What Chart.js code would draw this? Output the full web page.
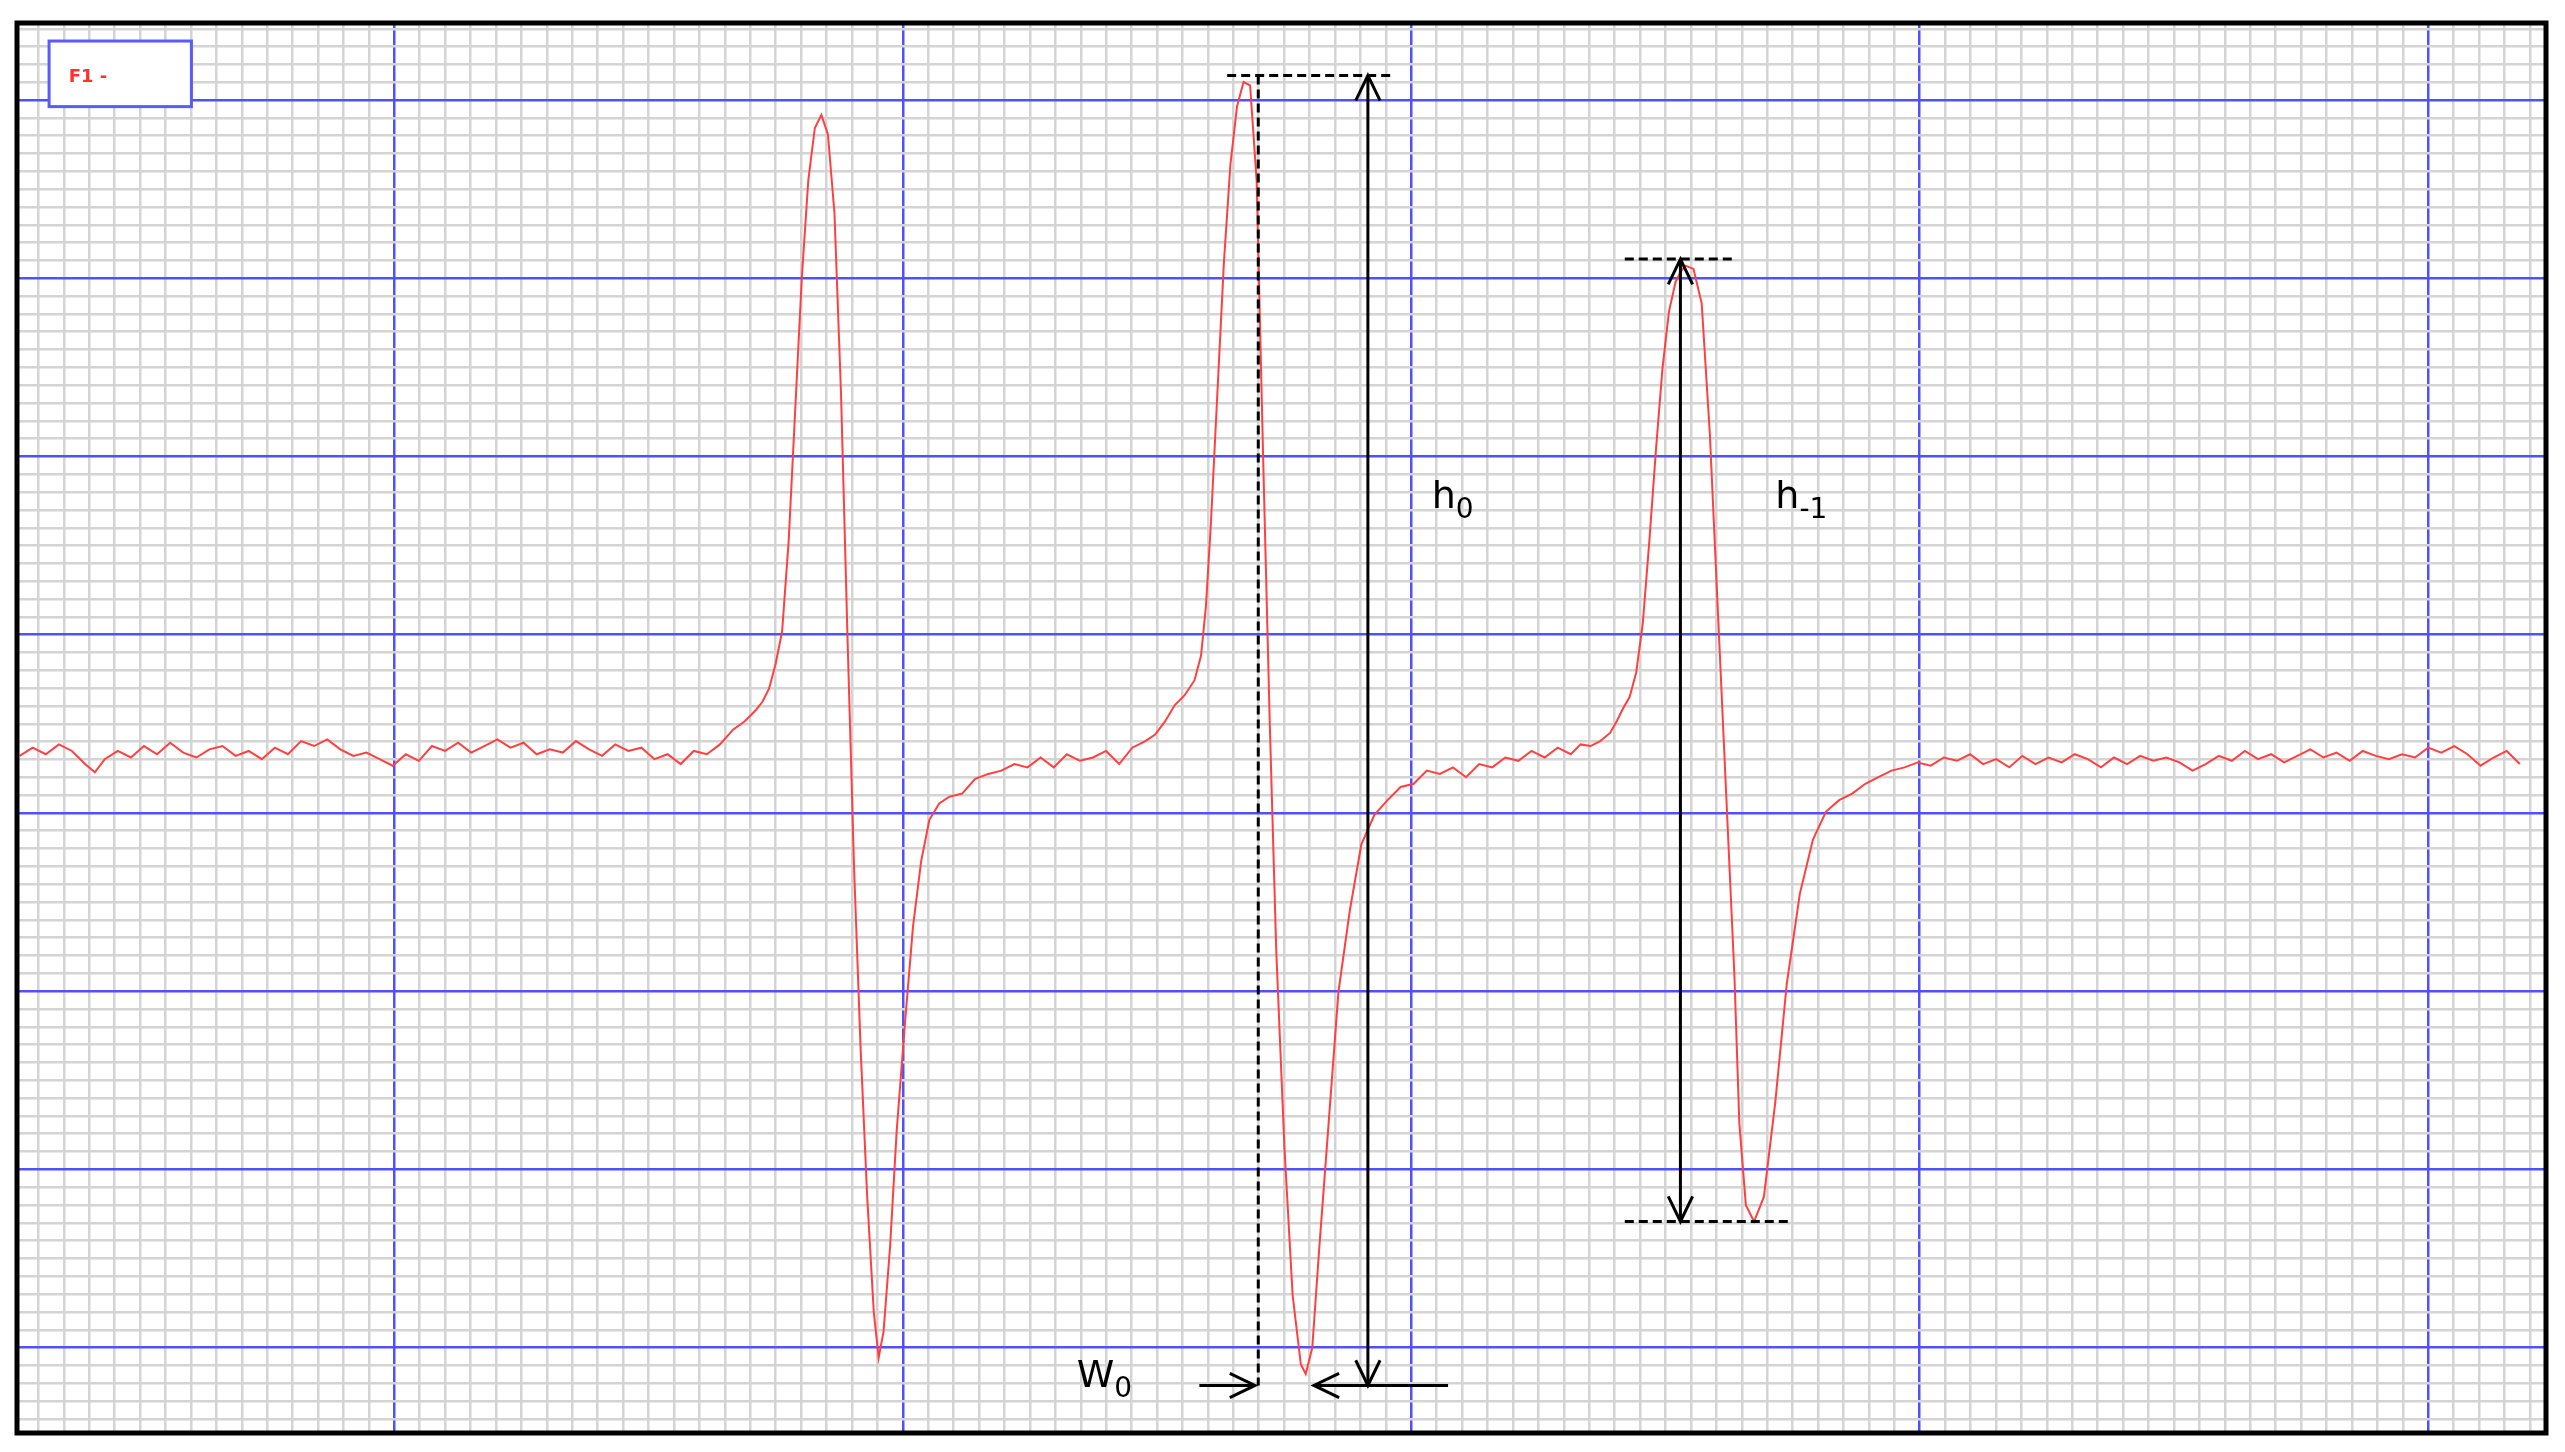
<!DOCTYPE html>
<html><head><meta charset="utf-8">
<script src="https://cdn.jsdelivr.net/npm/chart.js@4.4.0/dist/chart.umd.min.js"></script>
<style>html,body{margin:0;padding:0;background:#fff}#w{width:2565px;height:1452px}</style>
</head><body><div id="w"><canvas id="c"></canvas></div>
<script>
// Spectrum trace (field position, signal) in chart-paper units
const fieldX = [12,20,28,36,44,52,58,64,72,80,88,96,104,112,120,128,136,144,152,160,168,176,184,192,200,208,216,224,232,240,248,256,264,272,280,288,296,304,312,320,328,336,344,352,360,368,376,384,392,400,408,416,424,432,440,448,455,462,466,470,474,478,482,486,490,494,498,502,506,510,514,518,522,526,530,534,537,540,544,548,553,558,563,568,574,580,588,596,604,612,620,628,636,644,652,660,668,676,684,692,700,706,712,718,724,730,734,737,740,744,748,752,756,760,764,768,772,776,780,785,790,795,798,802,806,812,818,825,832,840,848,856,864,872,880,888,896,904,912,920,928,936,944,952,960,966,972,978,984,988,992,996,1000,1004,1008,1012,1016,1020,1024,1027,1030,1035,1040,1045,1050,1055,1060,1063,1067,1072,1078,1085,1092,1100,1108,1116,1124,1132,1140,1148,1156,1164,1172,1180,1188,1196,1204,1212,1220,1228,1236,1244,1252,1260,1268,1276,1284,1292,1300,1308,1316,1324,1332,1340,1348,1356,1364,1372,1380,1388,1396,1404,1412,1420,1428,1436,1444,1452,1460,1468,1476,1484,1492,1500,1508,1516,1524,1532,1540,1548,1556];
const signal = [461,456,460,454,458,466,471,463,458,462,455,460,453,459,462,457,455,461,458,463,456,460,452,455,451,457,461,459,463,467,460,464,455,458,453,459,455,451,456,453,460,457,459,452,457,461,454,458,456,463,460,466,458,460,454,445,440,433,428,420,405,385,330,250,170,110,78,70,82,130,240,390,530,640,730,800,828,812,760,690,625,565,525,500,490,486,484,475,472,470,466,468,462,468,460,464,462,458,466,456,452,448,440,430,424,415,400,370,320,240,160,100,65,50,52,110,280,440,580,700,790,832,838,822,765,685,605,555,515,497,488,480,478,470,472,468,474,466,468,462,464,458,462,456,460,454,455,452,447,440,432,425,410,380,330,275,225,190,172,166,162,164,185,265,375,485,595,685,735,745,730,672,600,545,512,495,488,484,478,474,470,468,465,467,462,464,460,466,463,468,461,466,462,465,460,463,468,462,466,461,464,462,465,470,466,461,464,458,463,460,465,461,457,462,459,464,458,461,463,460,462,456,459,455,460,467,462,458,466];
const majorStepX = 310.75, firstMajorX = 241;
const majorStepY = 108.7, firstMajorY = 61;
const legendLabel = 'F1 -';

const pts = fieldX.map((x,i)=>({x, y: signal[i]}));
function gridTicks(first, step, min, max){
  const m = step/((step>200)?20:10), out=[];
  let v = first - Math.floor((first-min)/m)*m;
  for(; v<=max+0.01; v+=m) out.push({value:+v.toFixed(3)});
  return out;
}
function isMajor(v, first, step){ const r=((v-first)/step); return Math.abs(r-Math.round(r))<0.01; }

const overlay = {
  id:'overlay',
  afterDatasetsDraw(chart){
    const {ctx, scales:{x,y}} = chart;
    const X=v=>x.getPixelForValue(v), Y=v=>y.getPixelForValue(v);
    ctx.save();
    ctx.strokeStyle='#000'; ctx.fillStyle='#000'; ctx.lineWidth=3;
    function line(x1,y1,x2,y2,dash){ ctx.setLineDash(dash?[9,5]:[]); ctx.beginPath(); ctx.moveTo(X(x1),Y(y1)); ctx.lineTo(X(x2),Y(y2)); ctx.stroke(); ctx.setLineDash([]); }
    function head(px,py,dx,dy){ // open V head at (px,py) pointing dir
      const L=28, a=0.45, ang=Math.atan2(dy,dx), hx=X(px), hy=Y(py);
      ctx.beginPath();
      ctx.moveTo(hx-L*Math.cos(ang-a), hy-L*Math.sin(ang-a)); ctx.lineTo(hx,hy);
      ctx.lineTo(hx-L*Math.cos(ang+a), hy-L*Math.sin(ang+a)); ctx.stroke();
    }
    // h0
    line(750,46,852,46,true);
    line(769,46,769,845,true);
    line(836,46,836,845); head(836,46,0,-1); head(836,845,0,1);
    // W0 arrows
    line(733,845,767,845); head(767,845,1,0);
    line(803,845,885,845); head(803,845,-1,0);
    // h-1
    line(993,158,1060,158,true);
    line(993,745,1093,745,true);
    line(1027,158,1027,745); head(1027,158,0,-1); head(1027,745,0,1);
    // labels
    ctx.fillStyle='#000'; ctx.textBaseline='alphabetic';
    function lab(t,s,px,py){ ctx.font='38px "DejaVu Sans"'; ctx.fillText(t,X(px),Y(py)); const w=ctx.measureText(t).width; ctx.font='28px "DejaVu Sans"'; ctx.fillText(s,X(px)+w,Y(py)+10); }
    lab('h','0',875,310); lab('h','-1',1085,310); lab('W','0',658,846);
    // legend box
    ctx.fillStyle='#fff'; ctx.fillRect(X(30),Y(25),X(117)-X(30),Y(65)-Y(25));
    ctx.strokeStyle='#5a5aff'; ctx.lineWidth=3; ctx.strokeRect(X(30),Y(25),X(117)-X(30),Y(65)-Y(25));
    ctx.fillStyle='#ff3030'; ctx.font='bold 18px "DejaVu Sans"'; ctx.fillText(legendLabel,X(42),Y(50));
    // frame
    const a=chart.chartArea; ctx.strokeStyle='#000'; ctx.lineWidth=5; ctx.strokeRect(a.left,a.top,a.right-a.left,a.bottom-a.top);
    ctx.restore();
  }
};

new Chart(document.getElementById('c'),{
  type:'scatter',
  data:{datasets:[{data:pts, showLine:true, borderColor:'#ff4040', borderWidth:2, pointRadius:0, tension:0}]},
  options:{
    responsive:true, maintainAspectRatio:false, animation:false,
    layout:{padding:{left:17,top:23,right:19,bottom:19}},
    plugins:{legend:{display:false}, tooltip:{enabled:false}},
    scales:{
      x:{type:'linear', min:10.4, max:1556,
        afterBuildTicks(ax){ ax.ticks=gridTicks(firstMajorX,majorStepX,10.4,1556); },
        ticks:{display:false}, border:{display:false},
        grid:{drawTicks:false, color:c=>isMajor(c.tick.value,firstMajorX,majorStepX)?'#5050ff':'#d4d4d4', lineWidth:c=>isMajor(c.tick.value,firstMajorX,majorStepX)?2.5:2.5}},
      y:{type:'linear', reverse:true, min:14, max:874,
        afterBuildTicks(ax){ ax.ticks=gridTicks(firstMajorY,majorStepY,14,874); },
        ticks:{display:false}, border:{display:false},
        grid:{drawTicks:false, color:c=>isMajor(c.tick.value,firstMajorY,majorStepY)?'#5050ff':'#d4d4d4', lineWidth:2.5}}
    }
  },
  plugins:[overlay]
});
</script></body></html>
